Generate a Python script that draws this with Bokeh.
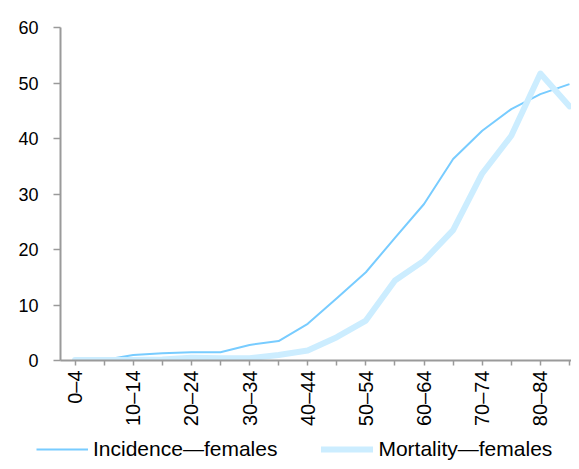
import math
from bokeh.plotting import figure
from bokeh.layouts import column
from bokeh.models import FixedTicker, Range1d, Legend, LegendItem, ColumnDataSource
from bokeh.embed import file_html
from bokeh.resources import INLINE

age_groups = ["0–4", "5–9", "10–14", "15–19", "20–24", "25–29", "30–34", "35–39",
              "40–44", "45–49", "50–54", "55–59", "60–64", "65–69", "70–74", "75–79",
              "80–84", "85+"]
incidence = [0.1, 0.1, 1.0, 1.3, 1.5, 1.5, 2.8, 3.5, 6.6, 11.2, 15.9, 22.1, 28.2,
             36.3, 41.4, 45.3, 48.0, 49.8]
mortality = [0.1, 0.1, 0.1, 0.2, 0.5, 0.4, 0.4, 1.0, 1.8, 4.2, 7.2, 14.4, 18.0,
             23.5, 33.7, 40.5, 51.7, 45.8]
y_ticks = [0, 10, 20, 30, 40, 50, 60]
series_names = ["Incidence—females", "Mortality—females"]

xs = list(range(len(age_groups)))
src = ColumnDataSource(dict(x=xs, inc=incidence, mort=mortality))

FONT = "Liberation Sans"
AXIS_COLOR = "#9a9a9a"
INC_COLOR = "#78CCFF"
MORT_COLOR = "#CCEDFF"

p = figure(width=571, height=432, output_backend="svg", toolbar_location=None,
           x_range=Range1d(-0.5, 17.07), y_range=Range1d(0, 60),
           min_border_left=60, min_border_right=0, min_border_top=27,
           min_border_bottom=72)
p.frame_align = False
p.outline_line_color = None
p.grid.visible = False
p.background_fill_color = "white"
p.border_fill_color = "white"

r_inc = p.line("x", "inc", source=src, line_color=INC_COLOR, line_width=2, line_join="round")
r_mort = p.line("x", "mort", source=src, line_color=MORT_COLOR, line_width=6,
                line_join="round", line_cap="round")

# x axis
xa = p.xaxis[0]
xa.ticker = FixedTicker(ticks=xs)
xa.major_label_overrides = {i: (lab if i % 2 == 0 else "") for i, lab in enumerate(age_groups)}
xa.major_label_orientation = math.pi / 2
xa.major_label_text_font = FONT
xa.major_label_text_font_size = "20px"
xa.major_label_text_color = "black"
xa.major_label_standoff = 5
xa.axis_line_color = AXIS_COLOR
xa.axis_line_width = 2
xa.major_tick_line_color = AXIS_COLOR
xa.major_tick_line_width = 1.5
xa.major_tick_out = 5
xa.major_tick_in = 0
xa.minor_tick_line_color = None

# y axis
ya = p.yaxis[0]
ya.ticker = FixedTicker(ticks=y_ticks)
ya.major_label_text_font = FONT
ya.major_label_text_font_size = "18px"
ya.major_label_text_color = "black"
ya.major_label_standoff = 15
ya.axis_line_color = AXIS_COLOR
ya.axis_line_width = 2
ya.major_tick_line_color = AXIS_COLOR
ya.major_tick_line_width = 1.5
ya.major_tick_out = 7
ya.major_tick_in = 0
ya.minor_tick_line_color = None

# legend strip (separate figure so the legend can sit left of the plot frame)
pl = figure(width=571, height=29, output_backend="svg", toolbar_location=None,
            x_range=Range1d(0, 1), y_range=Range1d(0, 1),
            x_axis_type=None, y_axis_type=None,
            min_border_left=0, min_border_right=0, min_border_top=0, min_border_bottom=0)
pl.frame_align = False
pl.outline_line_color = None
pl.grid.visible = False
l_inc = pl.line(x=[-5, -4], y=[-5, -4], line_color=INC_COLOR, line_width=2)
l_mort = pl.line(x=[-5, -4], y=[-5, -4], line_color=MORT_COLOR, line_width=6,
                 line_cap="round")

legend = Legend(items=[LegendItem(label=series_names[0], renderers=[l_inc]),
                       LegendItem(label=series_names[1], renderers=[l_mort])],
                orientation="horizontal", location=(36, 0),
                glyph_width=52, glyph_height=20, label_height=20,
                label_standoff=5, spacing=44, padding=0, margin=0,
                border_line_color=None, background_fill_alpha=0,
                label_text_font=FONT, label_text_font_size="21px",
                label_text_color="black")
pl.add_layout(legend)

layout = column(p, pl, spacing=0)
open("out.html", "w").write(file_html(layout, INLINE))
